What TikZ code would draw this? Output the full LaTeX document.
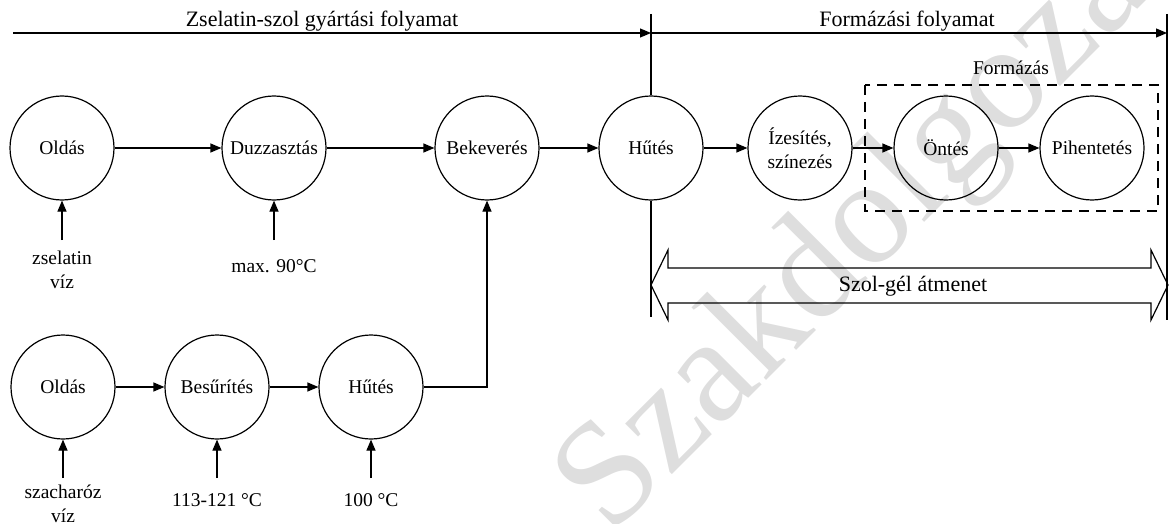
\documentclass[tikz,border=0pt]{standalone}
\usepackage{fontspec}
\setmainfont{Liberation Serif}
\usetikzlibrary{arrows.meta}
\tikzset{
  proc/.style={circle, draw, line width=1.2pt, minimum size=104pt, inner sep=0pt, align=center, font=\fontsize{19.5}{24}\selectfont},
  lbl/.style={align=center, inner sep=0pt, font=\fontsize{19.5}{24}\selectfont},
  title/.style={inner sep=0pt, anchor=base, font=\fontsize{22}{26}\selectfont},
  arr/.style={line width=1.2pt, -{Triangle[length=11pt,width=9pt]}},
  ln/.style={line width=1.2pt},
  dashbox/.style={line width=1.2pt, dash pattern=on 10pt off 7pt},
}
\begin{document}
\begin{tikzpicture}[x=1pt,y=-1pt]
\useasboundingbox (0,0) rectangle (1169,524);
% watermark
\node[rotate=45, anchor=base west, inner sep=0pt, text=black!13, font=\fontsize{150}{156}\selectfont] (wm) at (610,537) {Szakdolgozat};

% titles
\node[title] (t1) at (322,27) {Zselatin-szol gyártási folyamat};
\node[title] (t2) at (907,27) {Formázási folyamat};
\coordinate (a0) at (13,33);
\coordinate (a1) at (651,33);
\coordinate (a2) at (1167,33);
\coordinate (v1) at (651,14);
\coordinate (v2) at (1167,14);
\coordinate (v2b) at (1167,320);
\coordinate (v1b) at (651,317);

% top row
\node[proc] (o1) at (62,148) {Oldás};
\node[proc] (du) at (274,148) {Duzzasztás};
\node[proc] (bk) at (487,148) {Bekeverés};
\node[proc] (hu) at (651,148) {Hűtés};
\node[proc] (iz) at (800,148) {Ízesítés,\\színezés};
\node[proc] (on) at (946,148) {Öntés};
\node[proc] (pi) at (1092,148) {Pihentetés};

% bottom row
\node[proc] (o2) at (63,387) {Oldás};
\node[proc] (be) at (217,387) {Besűrítés};
\node[proc] (h2) at (371,387) {Hűtés};

% top timeline
\draw[arr] (a0) -- (a1);
\draw[arr] (a1) -- (a2);
\draw[ln] (v1) -- (hu.north);
\draw[ln] (hu.south) -- (v1b);
\draw[ln] (v2) -- (v2b);

% flow arrows
\draw[arr] (o1) -- (du);
\draw[arr] (du) -- (bk);
\draw[arr] (bk) -- (hu);
\draw[arr] (hu) -- (iz);
\draw[arr] (iz) -- (on);
\draw[arr] (on) -- (pi);
\draw[arr] (o2) -- (be);
\draw[arr] (be) -- (h2);
\draw[arr] (h2.east) -| (bk.south);

% inputs
\node[lbl] (l1) at (62,270) {zselatin\\víz};
\node[lbl] (l2) at (274,266) {max. 90°C};
\node[lbl] (l3) at (63,504) {szacharóz\\víz};
\node[lbl] (l4) at (217,500) {113-121 °C};
\node[lbl] (l5) at (371,500) {100 °C};
\coordinate (i1) at (62,240);
\coordinate (i2) at (274,240);
\coordinate (i3) at (63,478);
\coordinate (i4) at (217,478);
\coordinate (i5) at (371,478);
\draw[arr] (i1) -- (o1.south);
\draw[arr] (i2) -- (du.south);
\draw[arr] (i3) -- (o2.south);
\draw[arr] (i4) -- (be.south);
\draw[arr] (i5) -- (h2.south);

% Formázás box
\draw[dashbox] (865,85) rectangle (1158,211);
\node[title] (fl) at (1011,75) {\fontsize{19.5}{24}\selectfont Formázás};

% Szol-gél double arrow
\draw[ln, line join=miter] (651,285) -- (668,250) -- (668,268) -- (1151,268) -- (1151,250) -- (1168,285) -- (1151,320) -- (1151,303) -- (668,303) -- (668,320) -- cycle;
\node[lbl, font=\fontsize{22}{26}\selectfont] (sg) at (913,286) {Szol-gél átmenet};
\end{tikzpicture}
\end{document}
